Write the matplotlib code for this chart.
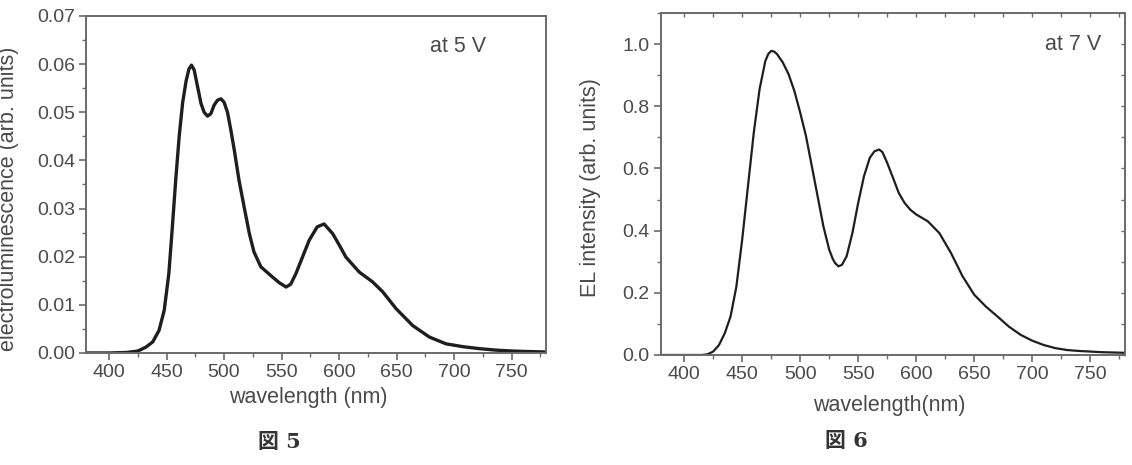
import numpy as np
import matplotlib
matplotlib.use('Agg')
import matplotlib.pyplot as plt
from matplotlib.ticker import MultipleLocator, FormatStrFormatter

# 図5 - at 5 V
wl_5v = [380, 400, 415, 425, 432, 438, 443.5, 448, 452, 455, 458, 461, 464, 467,
         469.5, 471.7, 474, 477, 480, 482.7, 485.6, 488.5, 491.4, 494.3, 497.2,
         500, 503, 506, 509, 513, 517.5, 522, 526, 532, 542, 548, 554, 558, 562.5,
         568, 574, 581, 587, 594.4, 600, 606, 617.6, 629, 638, 649.6, 664, 678.6,
         693, 708, 722, 736, 751, 765, 780]
el_5v = [0.0, 0.0, 0.0001, 0.0004, 0.0012, 0.0023, 0.0047, 0.0089, 0.0165, 0.026,
         0.036, 0.045, 0.052, 0.0565, 0.059, 0.0598, 0.0588, 0.0553, 0.0518, 0.0500,
         0.0492, 0.0497, 0.0515, 0.0525, 0.0528, 0.0521, 0.0500, 0.0462, 0.0420,
         0.0359, 0.0303, 0.0248, 0.0210, 0.0179, 0.0158, 0.0146, 0.0137, 0.0143,
         0.0165, 0.0198, 0.0234, 0.0262, 0.0268, 0.0248, 0.0225, 0.0199, 0.0168,
         0.0148, 0.0127, 0.0092, 0.0057, 0.0033, 0.0019, 0.0013, 0.0009, 0.0006,
         0.0004, 0.0003, 0.0002]

# 図6 - at 7 V
wl_7v = [380, 400, 415, 420, 425, 430, 435, 440, 445, 450, 455, 460, 465, 470, 472.5,
         475, 477.5, 480, 485, 490, 495, 500, 505, 510, 515, 520, 525, 528, 530, 533,
         536, 540, 545, 550, 555, 560, 564, 568, 571, 575, 580, 585, 590, 595, 600,
         610, 620, 630, 640, 650, 660, 670, 680, 690, 700, 710, 720, 730, 740, 750,
         760, 780]
el_7v = [0.0, 0.0, 0.0, 0.002, 0.011, 0.032, 0.07, 0.124, 0.22, 0.371, 0.543, 0.715,
         0.855, 0.946, 0.968, 0.978, 0.976, 0.968, 0.941, 0.903, 0.849, 0.78, 0.704,
         0.608, 0.511, 0.414, 0.339, 0.31, 0.296, 0.285, 0.29, 0.317, 0.392, 0.489,
         0.575, 0.634, 0.655, 0.661, 0.652, 0.618, 0.57, 0.521, 0.489, 0.467, 0.452,
         0.43, 0.392, 0.328, 0.253, 0.194, 0.156, 0.124, 0.091, 0.065, 0.046, 0.032,
         0.022, 0.016, 0.013, 0.011, 0.009, 0.007]

xticks = [400, 450, 500, 550, 600, 650, 700, 750]

plt.rcParams['font.family'] = ['Liberation Sans', 'DejaVu Sans']
txt = '#4a4a4a'
spine = '#6a6a6a'

fig = plt.figure(figsize=(11.32, 4.65), dpi=100)
ax1 = fig.add_axes([0.0760, 0.2409, 0.4064, 0.7247])
ax2 = fig.add_axes([0.5839, 0.2366, 0.4099, 0.7355])

ax1.plot(wl_5v, el_5v, color='#1e1e1e', lw=2.4, solid_joinstyle='round')
ax2.plot(wl_7v, el_7v, color='#1e1e1e', lw=1.6, solid_joinstyle='round')

ax1.set_xlim(380, 780)
ax1.set_ylim(0, 0.07)
ax1.yaxis.set_major_locator(MultipleLocator(0.01))
ax1.yaxis.set_minor_locator(MultipleLocator(0.005))
ax1.yaxis.set_major_formatter(FormatStrFormatter('%.2f'))

ax2.set_xlim(380, 780)
ax2.set_ylim(0, 1.1)
ax2.set_yticks([0.0, 0.2, 0.4, 0.6, 0.8, 1.0])
ax2.yaxis.set_minor_locator(MultipleLocator(0.1))
ax2.yaxis.set_major_formatter(FormatStrFormatter('%.1f'))

for ax in (ax1, ax2):
    ax.set_xticks(xticks)
    ax.xaxis.set_minor_locator(MultipleLocator(25))
    for s in ax.spines.values():
        s.set_color(spine)
        s.set_linewidth(1.4)
    ax.tick_params(which='major', direction='out', length=5, width=1.2,
                   color=spine, labelcolor=txt, labelsize=14, pad=3)
    ax.tick_params(which='minor', direction='out', length=3, width=1.0, color=spine)

# small inward ticks on top and right of the second panel
top = ax2.secondary_xaxis('top')
top.set_xticks(xticks)
top.xaxis.set_minor_locator(MultipleLocator(25))
top.tick_params(axis='x', which='both', direction='in', length=3, width=1.0,
                color=spine, labeltop=False)
right = ax2.secondary_yaxis('right')
right.set_yticks([0.0, 0.2, 0.4, 0.6, 0.8, 1.0])
right.yaxis.set_minor_locator(MultipleLocator(0.1))
right.tick_params(axis='y', which='both', direction='in', length=3, width=1.0,
                  color=spine, labelright=False)
for sec in (top, right):
    for s in sec.spines.values():
        s.set_visible(False)

ax1.set_xlabel('wavelength (nm)', fontsize=15.5, color=txt)
ax1.set_ylabel('electroluminescence (arb. units)', fontsize=15.5, color=txt)
ax1.xaxis.set_label_coords(0.483, -0.101)
ax1.yaxis.set_label_coords(-0.146, 0.457)
ax1.text(0.748, 0.908, 'at 5 V', transform=ax1.transAxes, fontsize=15.5,
         color=txt, va='center', ha='left')

ax2.set_xlabel('wavelength(nm)', fontsize=15.5, color=txt)
ax2.set_ylabel('EL intensity (arb. units)', fontsize=15.5, color=txt)
ax2.xaxis.set_label_coords(0.493, -0.117)
ax2.yaxis.set_label_coords(-0.129, 0.49)
ax2.text(0.827, 0.909, 'at 7 V', transform=ax2.transAxes, fontsize=15.5,
         color=txt, va='center', ha='left')

cap_font = ['DejaVu Serif', 'Noto Sans CJK JP']
fig.text(0.2465, 0.049, '図 5', family=cap_font, fontsize=15, fontweight='bold',
         color='#333333', ha='center', va='center')
fig.text(0.748, 0.052, '図 6', family=cap_font, fontsize=15, fontweight='bold',
         color='#333333', ha='center', va='center')

fig.savefig('out.png', dpi=100)
